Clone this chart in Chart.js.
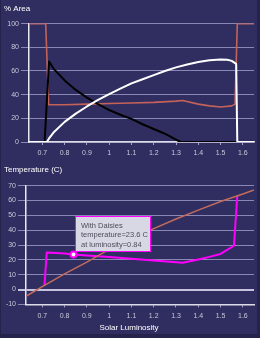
<!DOCTYPE html>
<html>
<head>
<meta charset="utf-8">
<script src="https://cdn.jsdelivr.net/npm/chart.js@4"></script>
<style>
  html, body { margin: 0; padding: 0; background: #302e61; }
  #wrap { position: relative; width: 260px; height: 338px; overflow: hidden; }
  canvas { display: block; }
  #frame { position: absolute; left: 0; top: 0; width: 260px; height: 338px;
    box-shadow: inset -3px -4px 0 #25234c, inset 1px 0 0 #25234c; pointer-events: none; }
</style>
</head>
<body>
<div id="wrap">
  <canvas id="areaChart" width="260" height="162"></canvas>
  <canvas id="tempChart" width="260" height="176"></canvas>
  <div id="frame"></div>
</div>
<script>
const luminosityTicks = [0.7, 0.8, 0.9, 1.0, 1.1, 1.2, 1.3, 1.4, 1.5, 1.6];
const areaTicks = [0, 20, 40, 60, 80, 100];
const tempTicks = [-10, 0, 10, 20, 30, 40, 50, 60, 70];

// % area: bare ground (red), black daisies, white daisies
const bareLum = [0.64, 0.715, 0.728, 0.8, 0.9, 1.0, 1.1, 1.2, 1.3, 1.33, 1.4, 1.45, 1.5, 1.55, 1.565, 1.575, 1.65];
const bareArea = [100, 100, 31.5, 31.5, 32, 32.5, 33, 33.5, 34.5, 35, 32, 30.5, 29.5, 30.5, 32, 100, 100];

const blackLum = [0.64, 0.71, 0.73, 0.75, 0.8, 0.85, 0.9, 0.95, 1.0, 1.05, 1.1, 1.15, 1.2, 1.25, 1.3, 1.32, 1.575];
const blackArea = [0, 0, 68, 62, 52, 44, 37.5, 32, 27, 23, 19.5, 15, 11, 7, 2, 0, 0];

const whiteLum = [0.64, 0.72, 0.73, 0.75, 0.8, 0.85, 0.9, 0.95, 1.0, 1.05, 1.1, 1.15, 1.2, 1.25, 1.3, 1.35, 1.4, 1.45, 1.5, 1.53, 1.55, 1.57, 1.575, 1.65];
const whiteArea = [0, 0, 3, 8, 17, 24, 30, 35.5, 40.5, 45, 49.5, 53, 56.5, 60, 63, 65.5, 67.5, 69, 69.7, 69.5, 68.5, 66, 0, 0];

// temperature: without daisies (brown), with daisies (magenta)
const noDaisyLum = [0.627, 0.7, 0.8, 0.9, 1.0, 1.1, 1.2, 1.3, 1.4, 1.5, 1.6, 1.65];
const noDaisyTemp = [-4.5, 2, 10.5, 18.5, 27, 34, 41, 47.5, 53.5, 59.3, 64.3, 67];

const daisyLum = [0.71, 0.72, 0.8, 0.84, 0.9, 1.0, 1.1, 1.2, 1.33, 1.4, 1.45, 1.5, 1.56, 1.575];
const daisyTemp = [3, 25, 24.2, 23.6, 23, 21.9, 20.7, 19.5, 18, 20.3, 22, 24, 29.5, 63];

// highlighted point + its label
const markLum = 0.84;
const markTemp = 23.6;
const tipLines = ["With Daisies", "temperature=23.6 C", "at luminosity=0.84"];

const FONT = '"Liberation Sans", Arial, sans-serif';
const tickColor = '#c8c8d8';
const gridColor = '#8987b3';

const pts = (xs, ys) => xs.map((x, i) => ({ x: x, y: ys[i] }));
const lumLabel = v => String(Number(v.toFixed(2)));

function xScale(min, height) {
  return {
    type: 'linear', min: min, max: 1.65,
    afterBuildTicks: s => { s.ticks = luminosityTicks.map(v => ({ value: v })); },
    afterFit: s => { s.height = height; },
    ticks: { color: tickColor, font: { size: 7, family: FONT }, padding: 4, callback: lumLabel, maxRotation: 0 },
    grid: { drawOnChartArea: false, tickLength: 3, color: '#a9a7c9' },
    border: { color: '#dcdce8', width: 1.5 }
  };
}

function yScale(min, max, ticks, width, grid) {
  return {
    min: min, max: max,
    afterBuildTicks: s => { s.ticks = ticks.map(v => ({ value: v })); },
    afterFit: s => { s.width = width; },
    ticks: { color: tickColor, font: { size: 7, family: FONT }, padding: 2 },
    grid: grid,
    border: { color: '#e8e8f0', width: 1.5 }
  };
}

// top chart - % area
new Chart(document.getElementById('areaChart'), {
  type: 'line',
  data: {
    datasets: [
      { data: pts(whiteLum, whiteArea), borderColor: '#ffffff', borderWidth: 2 },
      { data: pts(blackLum, blackArea), borderColor: '#000000', borderWidth: 2 },
      { data: pts(bareLum, bareArea), borderColor: '#c4625a', borderWidth: 1.6 }
    ]
  },
  options: {
    responsive: false,
    animation: false,
    layout: { padding: { left: 4, right: 6, top: 0, bottom: 0 } },
    elements: { point: { radius: 0 }, line: { borderJoinStyle: 'round', tension: 0 } },
    plugins: {
      legend: { display: false },
      tooltip: { enabled: false },
      title: { display: true, text: '% Area', align: 'start', color: '#ffffff',
        font: { size: 8, family: FONT, weight: 'normal' }, padding: { top: 4, bottom: 10 } }
    },
    scales: {
      x: xScale(0.64, 20),
      y: yScale(0, 100, areaTicks, 25, { color: gridColor, tickLength: 8 })
    }
  }
});

const tipPlugin = {
  id: 'daisyTip',
  afterDatasetsDraw(chart) {
    const { ctx, scales } = chart;
    const px = scales.x.getPixelForValue(markLum);
    const py = scales.y.getPixelForValue(markTemp);
    const left = Math.round(px + 2), top = Math.round(py - 39), w = 76, h = 36;
    ctx.save();
    ctx.fillStyle = '#d8d8e4';
    ctx.fillRect(left, top, w, h);
    ctx.strokeStyle = '#ff00ff';
    ctx.lineWidth = 1;
    ctx.strokeRect(left + 0.5, top + 0.5, w - 1, h - 1);
    ctx.fillStyle = '#4c4c5c';
    ctx.font = '7.5px ' + FONT;
    ctx.textBaseline = 'middle';
    tipLines.forEach((t, i) => ctx.fillText(t, left + 6, top + 9.5 + i * 9.7));
    ctx.restore();
  }
};

// bottom chart - temperature
new Chart(document.getElementById('tempChart'), {
  type: 'line',
  data: {
    datasets: [
      { data: [{ x: markLum, y: markTemp }], borderColor: '#ff00ff', borderWidth: 2,
        pointRadius: 3, pointBackgroundColor: '#ffffff', pointBorderColor: '#ff00ff', pointBorderWidth: 2, showLine: false },
      { data: pts(noDaisyLum, noDaisyTemp), borderColor: '#c36b5c', borderWidth: 1.5 },
      { data: pts(daisyLum, daisyTemp), borderColor: '#ff00ff', borderWidth: 2 }
    ]
  },
  options: {
    responsive: false,
    animation: false,
    layout: { padding: { left: 4, right: 6, top: 0, bottom: 0 } },
    elements: { point: { radius: 0 }, line: { borderJoinStyle: 'round', tension: 0 } },
    plugins: {
      legend: { display: false },
      tooltip: { enabled: false },
      subtitle: { display: true, text: 'Temperature (C)', align: 'start', color: '#ffffff',
        font: { size: 8, family: FONT }, padding: { top: 3, bottom: 11 } },
      title: { display: true, text: 'Solar Luminosity', position: 'bottom', color: '#ffffff',
        font: { size: 8, family: FONT, weight: 'normal' }, padding: { top: 2, bottom: 5 } }
    },
    scales: {
      x: xScale(0.627, 17),
      y: yScale(-10, 70, tempTicks, 22, {
        color: c => c.tick && c.tick.value === 0 ? '#c4c2dc' : gridColor,
        lineWidth: c => c.tick && c.tick.value === 0 ? 2 : 1,
        tickLength: 8
      })
    }
  },
  plugins: [tipPlugin]
});
</script>
</body>
</html>
